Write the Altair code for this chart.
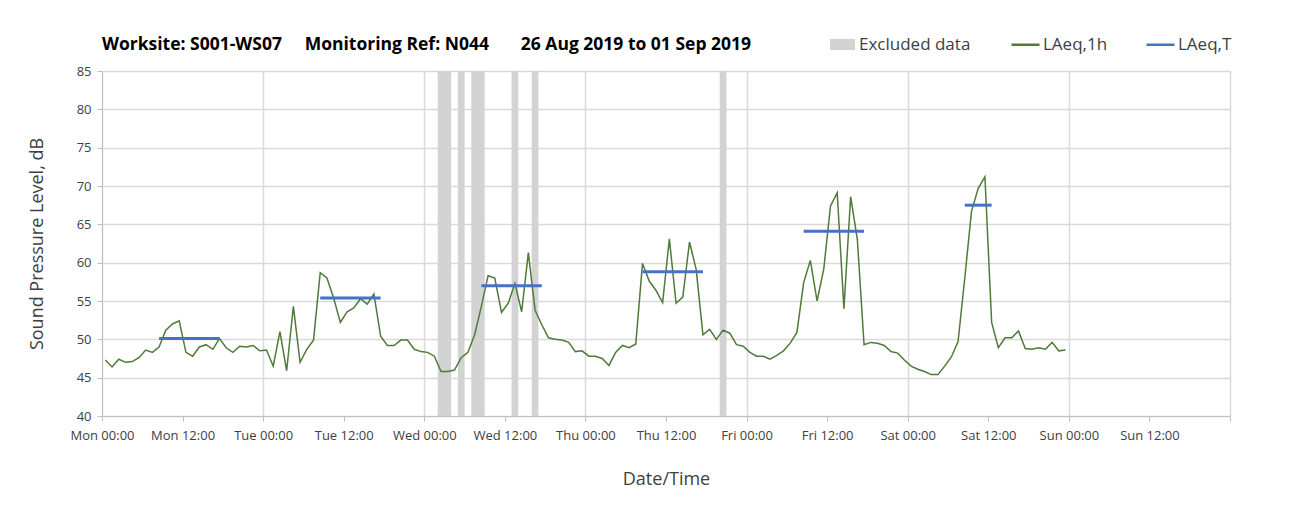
import altair as alt
import pandas as pd

# ---------------- data ----------------
DAYS = ["Mon", "Tue", "Wed", "Thu", "Fri", "Sat", "Sun"]

# hourly LAeq,1h values starting Mon 00:00 (one per hour)
LAEQ_1H = [
    47.3, 46.4, 47.4, 47.0, 47.1, 47.6, 48.6, 48.3, 49.0, 51.2, 52.0, 52.4,
    48.3, 47.8, 49.0, 49.3, 48.7, 50.1, 48.9, 48.3, 49.1, 49.0, 49.2, 48.5,
    48.6, 46.5, 51.0, 45.9, 54.3, 47.0, 48.7, 49.9, 58.7, 58.0, 55.4, 52.2,
    53.6, 54.1, 55.3, 54.6, 55.9, 50.4, 49.2, 49.2, 49.9, 49.9, 48.7, 48.4,
    48.3, 47.8, 45.8, 45.8, 46.0, 47.6, 48.3, 50.6, 54.3, 58.3, 58.0, 53.5,
    54.7, 57.3, 53.6, 61.3, 53.8, 51.9, 50.2, 50.0, 49.9, 49.6, 48.4, 48.5,
    47.8, 47.8, 47.5, 46.6, 48.3, 49.2, 48.9, 49.4, 59.9, 57.6, 56.4, 54.8,
    63.1, 54.7, 55.5, 62.7, 59.1, 50.6, 51.3, 50.0, 51.2, 50.8, 49.3, 49.1,
    48.3, 47.8, 47.8, 47.4, 47.9, 48.5, 49.5, 50.9, 57.4, 60.3, 55.0, 59.2,
    67.4, 69.1, 54.0, 68.6, 63.0, 49.3, 49.6, 49.5, 49.2, 48.4, 48.2, 47.3,
    46.5, 46.1, 45.8, 45.4, 45.4, 46.5, 47.7, 49.7, 58.0, 66.7, 69.7, 71.2,
    52.2, 48.9, 50.2, 50.2, 51.1, 48.8, 48.7, 48.9, 48.7, 49.6, 48.5, 48.6,
]

# LAeq,T periods (hour index of first and last hourly value) and levels
LAEQ_T_START = [8, 32, 56, 80, 104, 128]
LAEQ_T_END = [17, 41, 65, 89, 113, 132]
LAEQ_T_VALUE = [50.1, 55.4, 57.0, 58.8, 64.1, 67.5]

# excluded periods (hours from Mon 00:00)
EXCL_START = [50, 53, 55, 61, 64, 92]
EXCL_END = [52, 54, 57, 62, 65, 93]

Y_TICKS = [40, 45, 50, 55, 60, 65, 70, 75, 80, 85]
X_TICKS = list(range(0, 169, 12))

TITLE = ("Worksite: S001-WS07\u00a0\u00a0\u00a0\u00a0\u00a0Monitoring Ref: N044"
         "\u00a0\u00a0\u00a0\u00a0\u00a0\u00a0\u00a026 Aug 2019 to 01 Sep 2019")

GREEN = "#4f7a3a"
BLUE = "#4472c4"
GREY = "#d3d3d3"
GRID = "#d9d9d9"
TEXT = "#404040"
FONT = "Open Sans"

# ---------------- tables ----------------
df_h = pd.DataFrame({
    "t": [i + 0.5 for i in range(len(LAEQ_1H))],
    "v": LAEQ_1H,
    "series": "LAeq,1h",
})
df_t = pd.DataFrame({
    "t0": [s + 0.5 for s in LAEQ_T_START],
    "t1": [e + 0.5 for e in LAEQ_T_END],
    "v": LAEQ_T_VALUE,
    "series": "LAeq,T",
})
df_e = pd.DataFrame({"s": EXCL_START, "e": EXCL_END, "label": "Excluded data"})

days_js = "[" + ",".join("'%s'" % d for d in DAYS) + "]"
label_expr = (
    "datum.value >= 168 ? '' : " + days_js +
    "[floor(datum.value / 24) % 7] + ' ' + (datum.value % 24 == 0 ? '00:00' : '12:00')"
)

x_scale = alt.Scale(domain=[0, 168], nice=False, zero=False)
y_scale = alt.Scale(domain=[40, 85], nice=False, zero=False)

x_axis = alt.Axis(
    values=X_TICKS, labelExpr=label_expr, title="Date/Time",
    grid=True, gridColor=GRID, gridWidth=1.5,
    gridOpacity={"condition": {"test": "datum.value % 24 !== 0", "value": 0}, "value": 1},
    tickSize=5, tickColor="#bfbfbf", domainColor="#bfbfbf",
    labelFont=FONT, labelFontSize=13, labelColor=TEXT, labelFlush=False,
    labelOverlap=False, labelPadding=8,
    titleFont=FONT, titleFontSize=18, titleFontWeight="normal", titleColor=TEXT,
    titlePadding=28,
)
y_axis = alt.Axis(
    values=Y_TICKS, title="Sound Pressure Level, dB",
    grid=True, gridColor=GRID, gridWidth=1.5,
    tickSize=5, tickColor="#bfbfbf", domainColor="#bfbfbf",
    labelFont=FONT, labelFontSize=13, labelColor=TEXT, labelPadding=6,
    labelOverlap=False, labelFlush=False,
    titleFont=FONT, titleFontSize=18, titleFontWeight="normal", titleColor=TEXT,
    titlePadding=30,
)

bands = alt.Chart(df_e).mark_rect().encode(
    x=alt.X("s:Q", scale=x_scale, axis=x_axis),
    x2="e:Q",
    y=alt.Y(datum=85, scale=y_scale, axis=y_axis),
    y2=alt.Y2(datum=40),
    fill=alt.Fill(
        "label:N",
        scale=alt.Scale(domain=["Excluded data"], range=[GREY]),
        legend=alt.Legend(
            orient="none", legendX=728, legendY=-39, title=None,
            symbolType="M-1,-0.45L1,-0.45L1,0.45L-1,0.45Z", symbolSize=625,
            symbolStrokeWidth=0, symbolOpacity=1,
            labelFont=FONT, labelFontSize=17, labelColor=TEXT, labelOffset=4,
        ),
    ),
)

color_enc = alt.Color(
    "series:N",
    scale=alt.Scale(domain=["LAeq,1h", "LAeq,T"], range=[GREEN, BLUE]),
    legend=alt.Legend(
        orient="none", legendX=908, legendY=-42, direction="horizontal", title=None,
        symbolType="stroke", symbolSize=784, symbolStrokeWidth=2.5,
        labelFont=FONT, labelFontSize=17, labelColor=TEXT, labelOffset=2,
        columnPadding=33,
    ),
)

line = alt.Chart(df_h).mark_line(strokeWidth=1.5).encode(
    x=alt.X("t:Q", scale=x_scale, axis=x_axis),
    y=alt.Y("v:Q", scale=y_scale, axis=y_axis),
    color=color_enc,
)

period = alt.Chart(df_t).mark_rule(strokeWidth=3).encode(
    x=alt.X("t0:Q", scale=x_scale, axis=x_axis),
    x2="t1:Q",
    y=alt.Y("v:Q", scale=y_scale, axis=y_axis),
    color=color_enc,
)

chart = alt.layer(bands, line, period).properties(
    width=1128, height=345,
    title=alt.TitleParams(
        text=TITLE, anchor="start", frame="group", font=FONT, fontSize=17.5,
        fontWeight="bold", color="#000000", offset=-24,
    ),
    padding={"left": 94, "top": 63, "right": 56, "bottom": 88},
    autosize=alt.AutoSizeParams(type="none"),
).configure_view(stroke=None).configure(background="white")

chart.save("out.html", embed_options={"renderer": "svg", "actions": False})
